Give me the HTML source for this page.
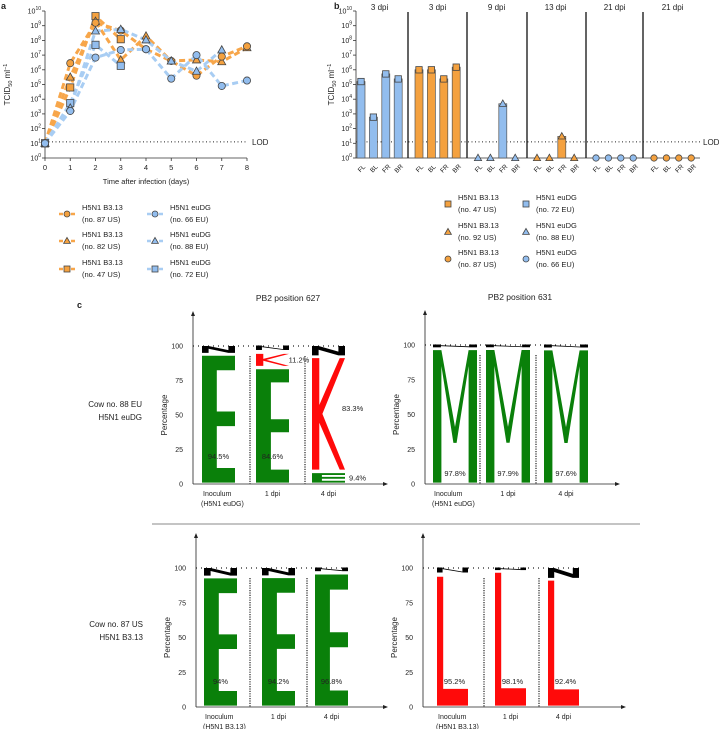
<!DOCTYPE html>
<html><head><meta charset="utf-8"><style>
body{margin:0;background:#fff;}
svg{display:block;font-family:"Liberation Sans",sans-serif;}
</style></head><body>
<svg id="fig" width="722" height="729" viewBox="0 0 722 729"></svg>
<script>
// ---------- DATA ----------
const daysA = [0,1,2,3,4,5,6,7,8];
const us87 = [1,6.45,9.2,8.67,7.4,6.6,5.6,6.9,7.6];
const us82 = [1,5.5,9.3,6.67,8.3,6.6,6.67,6.55,7.5];
const us47 = [1,4.8,9.65,8.08];
const eu66 = [1,3.2,6.83,7.35,7.4,5.4,7.0,4.9,5.27];
const eu88 = [1,3.4,8.64,8.75,8.03,6.6,5.9,7.35];
const eu72 = [1,3.73,7.7,6.27];
const lodLog = 1.1;
const tissues = ['FL','BL','FR','BR'];
const bGroupLabels = ['3 dpi','3 dpi','9 dpi','13 dpi','21 dpi','21 dpi'];
const bGroupSeries = ['eu','us','eu','us','eu','us'];
const bGroupShapes = ['sq','sq','tri','tri','circ','circ'];
const bValues = [[5.2,2.78,5.72,5.38],[6.0,6.0,5.38,6.18],[0,0,3.69,0],[0,0,1.47,0],[0,0,0,0],[0,0,0,0]];
const pctTicks = [0,25,50,75,100];
const logoColumns = ['Inoculum','1 dpi','4 dpi'];
const logoTL = [[['E',94.5]],[['E',84.6],['K',11.2]],[['E',9.4],['K',83.3]]];
const logoTR = [[['M',97.8]],[['M',97.9]],[['M',97.6]]];
const logoBL = [[['E',94]],[['E',94.2]],[['E',96.8]]];
const logoBR = [[['L',95.2]],[['L',98.1]],[['L',92.4]]];

// ---------- HELPERS ----------
const NS='http://www.w3.org/2000/svg';
const svg=document.getElementById('fig');
function mk(tag, attrs, name, parent){
  const el=document.createElementNS(NS,tag);
  for(const k in attrs) el.setAttribute(k,attrs[k]);
  
  
  (parent||svg).appendChild(el);
  return el;
}
function txt(x,y,s,name,opt){
  opt=opt||{};
  const t=mk('text',{x:x,y:y,'font-size':opt.size||7.5,fill:'#222','text-anchor':opt.anchor||'start'},name,opt.parent);
  if(opt.rot!==undefined) t.setAttribute('transform','rotate('+opt.rot+' '+x+' '+y+')');
  if(opt.weight) t.setAttribute('font-weight',opt.weight);
  t.textContent=s; return t;
}
function pow10(x,y,e,name){
  const t=mk('text',{x:x,y:y,'font-size':7,fill:'#222','text-anchor':'end'},name);
  const a=document.createElementNS(NS,'tspan');a.textContent='10';t.appendChild(a);
  const b=document.createElementNS(NS,'tspan');b.textContent=e;b.setAttribute('font-size','5');b.setAttribute('dy','-3.5');t.appendChild(b);
}
const OR='#f4a13f', BL='#92bdee', ORL='#f7a64a', BLL='#a8cdf3';
function marker(shape,x,y,fill,name,s){
  s=s||3.6;
  if(shape==='circ') return mk('circle',{cx:x,cy:y,r:s,fill:fill,stroke:'#444','stroke-width':0.8},name);
  if(shape==='sq') return mk('rect',{x:x-s,y:y-s,width:2*s,height:2*s,fill:fill,stroke:'#444','stroke-width':0.8},name);
  return mk('polygon',{points:(x)+','+(y-s-0.6)+' '+(x+s+0.4)+','+(y+s-0.6)+' '+(x-s-0.4)+','+(y+s-0.6),fill:fill,stroke:'#444','stroke-width':0.8},name);
}
function tcidTitle(x,y,name){
  const t=txt(x,y,'',name,{anchor:'middle',rot:-90,size:8});
  const a=document.createElementNS(NS,'tspan');a.textContent='TCID';t.appendChild(a);
  const b=document.createElementNS(NS,'tspan');b.textContent='50';b.setAttribute('font-size','5.5');b.setAttribute('dy','2');t.appendChild(b);
  const c=document.createElementNS(NS,'tspan');c.textContent=' ml';c.setAttribute('dy','-2');t.appendChild(c);
  const d=document.createElementNS(NS,'tspan');d.textContent='−1';d.setAttribute('font-size','5.5');d.setAttribute('dy','-3');t.appendChild(d);
}

// ---------- PANEL A ----------
const ax0=45, axDay=25.25, ayBase=158, ayDec=14.7;
const xA=d=>ax0+d*axDay, yA=v=>ayBase-v*ayDec;
txt(1,9,'a','panel-a-label',{size:9,weight:'bold'});
mk('line',{x1:ax0,y1:yA(10),x2:ax0,y2:ayBase,stroke:'#333','stroke-width':0.8},'a-y-axis');
mk('line',{x1:ax0,y1:ayBase,x2:xA(8),y2:ayBase,stroke:'#333','stroke-width':0.8},'a-x-axis');
for(let e=0;e<=10;e++){
  mk('line',{x1:ax0-3,y1:yA(e),x2:ax0,y2:yA(e),stroke:'#333','stroke-width':0.8},'a-y-tick');
  pow10(ax0-4,yA(e)+2.5,String(e),'a-y-tick-label');
}
daysA.forEach(d=>{
  mk('line',{x1:xA(d),y1:ayBase,x2:xA(d),y2:ayBase+3,stroke:'#333','stroke-width':0.8},'a-x-tick');
  txt(xA(d),ayBase+12,String(d),'a-x-tick-label',{anchor:'middle'});
});
txt(xA(4),184,'Time after infection (days)','a-x-axis-title',{anchor:'middle'});
tcidTitle(10,yA(5),'a-y-axis-title');
mk('line',{x1:ax0,y1:yA(lodLog),x2:xA(8),y2:yA(lodLog),stroke:'#222','stroke-width':1,'stroke-dasharray':'1 2.5'},'a-lod-line');
txt(252,yA(lodLog)+3,'LOD','a-lod-label',{size:8});
const aSeries=[[us47,ORL,OR,'sq','us47'],[us82,ORL,OR,'tri','us82'],[us87,ORL,OR,'circ','us87'],[eu72,BLL,BL,'sq','eu72'],[eu88,BLL,BL,'tri','eu88'],[eu66,BLL,BL,'circ','eu66']];
aSeries.forEach(s=>{
  mk('polyline',{points:s[0].map((v,i)=>xA(daysA[i])+','+yA(v)).join(' '),fill:'none',stroke:s[1],'stroke-width':3,'stroke-dasharray':'6 3.5'},'a-line-'+s[4]);
});
aSeries.forEach(s=>{ s[0].forEach((v,i)=>marker(s[3],xA(daysA[i]),yA(v),s[2],'a-point-'+s[4])); });
const legA=[[67,214,OR,'circ','H5N1 B3.13','(no. 87 US)'],[67,241,OR,'tri','H5N1 B3.13','(no. 82 US)'],[67,269,OR,'sq','H5N1 B3.13','(no. 47 US)'],
 [155,214,BL,'circ','H5N1 euDG','(no. 66 EU)'],[155,241,BL,'tri','H5N1 euDG','(no. 88 EU)'],[155,269,BL,'sq','H5N1 euDG','(no. 72 EU)']];
legA.forEach(l=>{
  mk('line',{x1:l[0]-8,y1:l[1],x2:l[0]+8,y2:l[1],stroke:l[2]===OR?ORL:BLL,'stroke-width':2.5,'stroke-dasharray':'4 2'},'a-legend-line');
  marker(l[3],l[0],l[1],l[2],'a-legend-marker',3);
  txt(l[0]+15,l[1]-4,l[4],'a-legend-text'); txt(l[0]+15,l[1]+8,l[5],'a-legend-text');
});

// ---------- PANEL B ----------
const bx0=356, bGroupStart=[361,419,478,537,596,654], bStep=12.4;
const yB=v=>158-v*14.7;
txt(334,9,'b','panel-b-label',{size:9,weight:'bold'});
mk('line',{x1:bx0,y1:yB(10),x2:bx0,y2:158,stroke:'#333','stroke-width':0.8},'b-y-axis');
mk('line',{x1:bx0,y1:158,x2:700,y2:158,stroke:'#333','stroke-width':0.8},'b-x-axis');
for(let e=0;e<=10;e++){
  mk('line',{x1:bx0-3,y1:yB(e),x2:bx0,y2:yB(e),stroke:'#333','stroke-width':0.8},'b-y-tick');
  pow10(bx0-4,yB(e)+2.5,String(e),'b-y-tick-label');
}
tcidTitle(334,yB(5),'b-y-axis-title');
[408,467,527,586,643].forEach(x=>mk('line',{x1:x,y1:12,x2:x,y2:158,stroke:'#111','stroke-width':1.3},'b-group-divider'));
mk('line',{x1:bx0,y1:yB(lodLog),x2:700,y2:yB(lodLog),stroke:'#222','stroke-width':1,'stroke-dasharray':'1 2.5'},'b-lod-line');
txt(703,yB(lodLog)+3,'LOD','b-lod-label',{size:8});
bGroupLabels.forEach((lab,g)=>{
  const gx0=bGroupStart[g];
  txt(gx0+bStep*1.5,10,lab,'b-group-title',{anchor:'middle',size:8});
  const fill=bGroupSeries[g]==='eu'?BL:OR;
  bValues[g].forEach((v,i)=>{
    const cx=gx0+i*bStep;
    if(v>0) mk('rect',{x:cx-4,y:yB(v),width:8,height:158-yB(v),fill:fill,stroke:'#555','stroke-width':0.7},'b-bar');
    marker(bGroupShapes[g],cx,yB(v),fill,'b-point',3.2);
    txt(cx+2,170,tissues[i],'b-x-tick-label',{anchor:'middle',rot:-45,size:6.5});
  });
});
const legB=[[448,204,OR,'sq','H5N1 B3.13','(no. 47 US)'],[448,232,OR,'tri','H5N1 B3.13','(no. 92 US)'],[448,259,OR,'circ','H5N1 B3.13','(no. 87 US)'],
 [526,204,BL,'sq','H5N1 euDG','(no. 72 EU)'],[526,232,BL,'tri','H5N1 euDG','(no. 88 EU)'],[526,259,BL,'circ','H5N1 euDG','(no. 66 EU)']];
legB.forEach(l=>{ marker(l[3],l[0],l[1],l[2],'b-legend-marker',3); txt(l[0]+10,l[1]-4,l[4],'b-legend-text'); txt(l[0]+10,l[1]+8,l[5],'b-legend-text'); });

// ---------- PANEL C ----------
txt(77,308,'c','panel-c-label',{size:9,weight:'bold'});
const GREEN='#0a800a', RED='#ff0a0a';
function letter(ch,x,w,yt,yb,color,name){
  const h=yb-yt; let pts=[];
  if(ch==='E'){
    const bw=0.45*w,t=Math.max(1.5,0.115*h),m=yt+h*0.44;
    pts=[[x,yt],[x+w,yt],[x+w,yt+t],[x+bw,yt+t],[x+bw,m],[x+w,m],[x+w,m+t],[x+bw,m+t],[x+bw,yb-t],[x+w,yb-t],[x+w,yb],[x,yb]];
    if(h<20){const tt=h/5;pts=[[x,yt],[x+w,yt],[x+w,yt+tt],[x+w*0.3,yt+tt],[x+w*0.3,yt+2*tt],[x+w,yt+2*tt],[x+w,yt+3*tt],[x+w*0.3,yt+3*tt],[x+w*0.3,yb-tt],[x+w,yb-tt],[x+w,yb],[x,yb]];}
  } else if(ch==='K'){
    const bw=0.22*w,mid=yt+h*0.5,d=0.16*w;
    pts=[[x,yt],[x+bw,yt],[x+bw,mid-h*0.08],[x+w-d,yt],[x+w,yt],[x+bw+d*0.6,mid],[x+w,yb],[x+w-d,yb],[x+bw,mid+h*0.08],[x+bw,yb],[x,yb]];
  } else if(ch==='M'){
    const bw=0.19*w,vx=x+w/2,vy=yt+h*0.7,d=0.12*w;
    pts=[[x,yt],[x+bw,yt],[vx,vy-h*0.12],[x+w-bw,yt],[x+w,yt],[x+w,yb],[x+w-bw,yb],[x+w-bw,yt+h*0.12],[vx+d*0.3,vy],[vx-d*0.3,vy],[x+bw,yt+h*0.12],[x+bw,yb],[x,yb]];
  } else if(ch==='L'){
    const bw=0.2*w,t=0.13*h;
    pts=[[x,yt],[x+bw,yt],[x+bw,yb-t],[x+w,yb-t],[x+w,yb],[x,yb]];
  }
  mk('polygon',{points:pts.map(p=>p[0].toFixed(1)+','+p[1].toFixed(1)).join(' '),fill:color},name);
}
function blackN(x,w,yt,yb,name){
  const h=yb-yt,bw=Math.min(0.2*w,7);
  mk('polygon',{points:[[x,yt],[x+bw,yt],[x+w-bw,yb-h*0.4],[x+w-bw,yt],[x+w,yt],[x+w,yb],[x+w-bw,yb],[x+bw,yt+h*0.4],[x+bw,yb],[x,yb]].map(p=>p.join(',')).join(' '),fill:'#000'},name);
}
function logoPanel(ax,y100,y0,xEnd,cols,colX,colW,seps,title,labelsInoc,pctY){
  const yp=p=>y0+(y100-y0)*p/100;
  if(title) txt((ax+xEnd)/2,y100-45,title,'logo-title',{anchor:'middle',size:8.5});
  mk('line',{x1:ax,y1:y0,x2:ax,y2:y100-33,stroke:'#222','stroke-width':0.8},'logo-y-axis');
  mk('polygon',{points:(ax-2)+','+(y100-30)+' '+(ax+2)+','+(y100-30)+' '+ax+','+(y100-35),fill:'#222'},'logo-y-arrow');
  mk('line',{x1:ax,y1:y0,x2:xEnd,y2:y0,stroke:'#222','stroke-width':0.8},'logo-x-axis');
  mk('polygon',{points:(xEnd)+','+(y0-2)+' '+(xEnd)+','+(y0+2)+' '+(xEnd+5)+','+y0,fill:'#222'},'logo-x-arrow');
  pctTicks.forEach(p=>{ txt(ax-10,yp(p)+2.5,String(p),'logo-y-tick-label',{anchor:'end',size:7}); });
  txt(ax-26,(y0+y100)/2,'Percentage','logo-y-axis-title',{anchor:'middle',rot:-90,size:8});
  mk('line',{x1:ax,y1:y100,x2:colX[2]+colW+2,y2:y100,stroke:'#222','stroke-width':1.2,'stroke-dasharray':'1 4'},'logo-100-line');
  seps.forEach(sx=>mk('line',{x1:sx,y1:y100+10,x2:sx,y2:y0,stroke:'#222','stroke-width':1.2,'stroke-dasharray':'1.2 1.2'},'logo-separator'));
  cols.forEach((col,ci)=>{
    let start=0; const x=colX[ci],w=colW;
    col.forEach((lp,li)=>{
      const [ch,p]=lp; const color=(ch==='K'||ch==='L')?RED:GREEN;
      letter(ch,x,w,yp(start+p-1.5),yp(start+1),color,'logo-letter-'+ch);
      if(col.length===1) txt(x+w/2+(ch==='L'?2:0),pctY,p+'%','logo-percent-label',{anchor:'middle',size:7.5});
      else if(ch==='K'&&ci===1) txt(x+w+10,yp(start+p/2)+3,p+'%','logo-percent-label',{anchor:'middle',size:7.5});
      else if(ch==='K') txt(x+w-3,yp(start+p*0.55)+3,p+'%','logo-percent-label',{size:7.5});
      else if(ci===2&&li===0) txt(x+w+4,yp(start+p/2)+3,p+'%','logo-percent-label',{size:7.5});
      else txt(x+w/2,pctY,p+'%','logo-percent-label',{anchor:'middle',size:7.5});
      start+=p;
    });
    const rem=100-start;
    if(rem>5.2) blackN(x,w,yp(100),yp(start+0.5),'logo-other-letter');
    else { mk('rect',{x:x,y:yp(100)-0.5,width:w*0.18,height:yp(100-rem*0.6)-yp(100)+1,fill:'#000'},'logo-other-block');
           mk('rect',{x:x+w*0.82,y:yp(100)-0.5,width:w*0.18,height:yp(100-rem*0.6)-yp(100)+1,fill:'#000'},'logo-other-block');
           mk('line',{x1:x+w*0.18,y1:yp(99.5),x2:x+w*0.82,y2:yp(100-rem*0.6),stroke:'#000','stroke-width':0.8},'logo-other-stroke'); }
    txt(ci===0?x+1:x+w/2,y0+12,ci===0?'Inoculum':logoColumns[ci],'logo-x-label',{anchor:ci===0?'start':'middle',size:7});
    if(ci===0) txt(x-1,y0+22,labelsInoc,'logo-x-label',{size:7});
  });
}
logoPanel(193,346,484,383,logoTL,[202,256,312],33,[250,305],'PB2 position 627','(H5N1 euDG)',459);
logoPanel(425,345,484,615,logoTR,[433,486,544],44,[480,536],'PB2 position 631','(H5N1 euDG)',476);
logoPanel(196,568,707,383,logoBL,[204,262,315],33,[250,307],null,'(H5N1 B3.13)',684);
logoPanel(423,568,707,621,logoBR,[437,495,548],31,[484,539],null,'(H5N1 B3.13)',684);
txt(142,407,'Cow no. 88 EU','row-label-top',{anchor:'end',size:8});
txt(142,420,'H5N1 euDG','row-label-top',{anchor:'end',size:8});
txt(143,627,'Cow no. 87 US','row-label-bottom',{anchor:'end',size:8});
txt(143,640,'H5N1 B3.13','row-label-bottom',{anchor:'end',size:8});
mk('line',{x1:152,y1:524,x2:640,y2:524,stroke:'#888','stroke-width':1},'row-divider');
</script>
</body></html>
